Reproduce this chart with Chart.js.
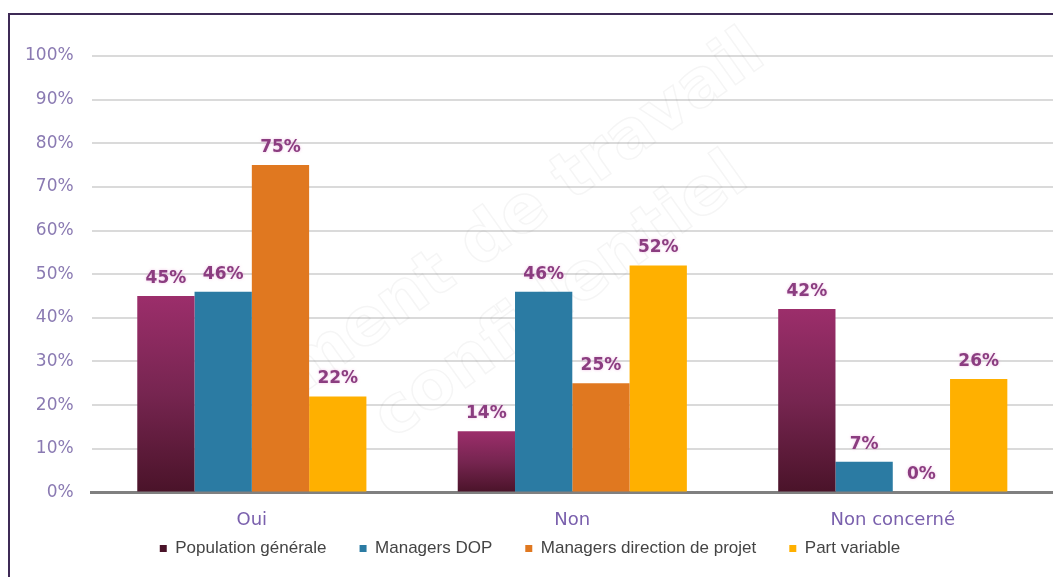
<!DOCTYPE html>
<html lang="fr">
<head>
<meta charset="utf-8">
<script src="https://cdn.jsdelivr.net/npm/chart.js@4/dist/chart.umd.min.js"></script>
<style>
  html, body { margin: 0; padding: 0; background: #fff; overflow: hidden; }
  #wrap { position: relative; width: 1053px; height: 577px; }
  #cadre {
    position: absolute; left: 8px; top: 13px; right: -2px; bottom: -2px;
    border-left: 2px solid #3e2a56; border-top: 2px solid #3e2a56;
    pointer-events: none;
  }
  canvas { position: absolute; left: 0; top: 0; }
</style>
</head>
<body>
<div id="wrap">
  <canvas id="graphique" width="1053" height="577"></canvas>
  <div id="cadre"></div>
</div>
<script>
// réponses par population
const categories = ["Oui", "Non", "Non concerné"];
const series = ["Population générale", "Managers DOP", "Managers direction de projet", "Part variable"];
const populationGenerale = [45, 14, 42];
const managersDop = [46, 46, 7];
const managersDirection = [75, 25, 0];
const partVariable = [22, 52, 26];
const couleurs = ["#6e1f48", "#2b7ba3", "#e07820", "#ffb000"];

// dégradé vertical pour la population générale (foncé en bas)
function degradePopulation(ctx) {
  const chart = ctx.chart;
  if (!chart.chartArea || ctx.type !== "data") return couleurs[0];
  const y = chart.scales.y;
  const haut = y.getPixelForValue(ctx.raw);
  const bas = y.getPixelForValue(0);
  if (bas - haut < 1) return couleurs[0];
  const g = chart.ctx.createLinearGradient(0, haut, 0, bas);
  g.addColorStop(0, "#9c2e6b");
  g.addColorStop(0.5, "#762550");
  g.addColorStop(1, "#4a1329");
  return g;
}

// filigrane en fond, très pâle
const filigrane = {
  id: "filigrane",
  beforeDatasetsDraw(chart) {
    const c = chart.ctx;
    c.save();
    c.translate(470, 290);
    c.rotate(-0.62);
    c.font = "bold 66px 'DejaVu Sans'";
    c.textAlign = "center";
    c.strokeStyle = "rgba(120,120,120,0.07)";
    c.lineWidth = 1.5;
    c.strokeText("document de travail", 0, -30);
    c.strokeText("confidentiel", 70, 60);
    c.restore();
  }
};

// valeurs au-dessus des barres
const etiquettes = {
  id: "etiquettes",
  afterDatasetsDraw(chart) {
    const c = chart.ctx;
    c.save();
    c.font = "bold 17px 'DejaVu Sans'";
    c.textAlign = "center";
    c.textBaseline = "bottom";
    c.fillStyle = "#8b3d80";
    c.shadowColor = "rgba(230,150,210,0.6)";
    c.shadowBlur = 3;
    chart.data.datasets.forEach((ds, i) => {
      chart.getDatasetMeta(i).data.forEach((bar, j) => {
        c.fillText(ds.data[j] + "%", bar.x, bar.y - 9);
      });
    });
    c.restore();
  }
};

const valeurs = [populationGenerale, managersDop, managersDirection, partVariable];

new Chart(document.getElementById("graphique"), {
  type: "bar",
  data: {
    labels: categories,
    datasets: series.map((nom, i) => ({
      label: nom,
      data: valeurs[i],
      backgroundColor: i === 0 ? degradePopulation : couleurs[i],
      borderWidth: 0,
      categoryPercentage: 0.715,
      barPercentage: 1
    }))
  },
  options: {
    responsive: false,
    animation: false,
    layout: { padding: { top: 56, left: 7, right: 0, bottom: 10 } },
    scales: {
      x: {
        grid: { display: false },
        border: { display: true, color: "#808080", width: 3 },
        ticks: { color: "#7a60ad", font: { family: "'DejaVu Sans'", size: 18 }, padding: 9 }
      },
      y: {
        min: 0, max: 100,
        ticks: {
          stepSize: 10,
          color: "#8a7ab2",
          font: { family: "'DejaVu Sans'", size: 17 },
          padding: 18,
          callback: v => v + "%"
        },
        grid: { color: "#dadada", lineWidth: 2, drawTicks: false },
        border: { display: false }
      }
    },
    plugins: {
      legend: {
        position: "bottom",
        labels: {
          usePointStyle: true,
          pointStyle: "rect",
          boxWidth: 7,
          boxHeight: 7,
          padding: 0,
          color: "#444",
          font: { family: "'Liberation Sans'", size: 17 },
          // espace plus large entre les entrées
          generateLabels(chart) {
            const items = Chart.defaults.plugins.legend.labels.generateLabels(chart);
            items.forEach((it, i) => { if (i < items.length - 1) it.text += "       "; });
            return items;
          }
        }
      },
      tooltip: { enabled: false }
    }
  },
  plugins: [filigrane, etiquettes]
});
</script>
</body>
</html>
